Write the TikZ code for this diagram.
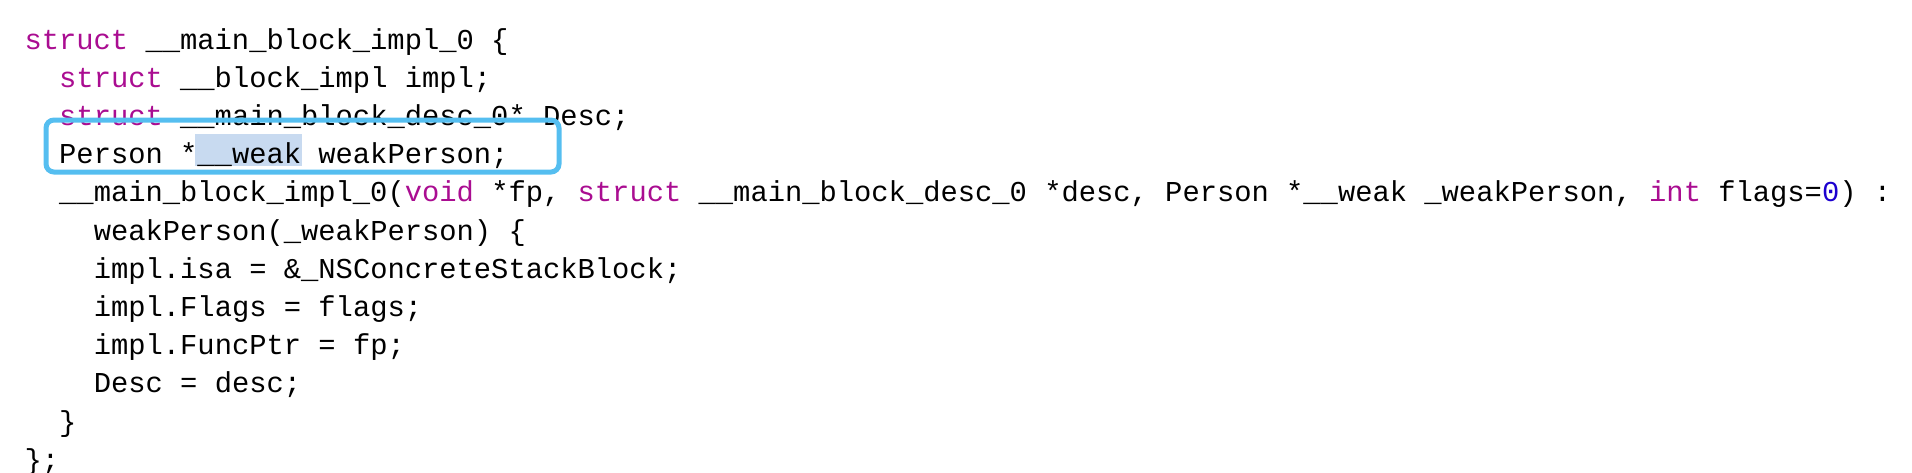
\documentclass[tikz,border=0pt]{standalone}
\usepackage{fontspec}
\newfontfamily\code{Liberation Mono}
\definecolor{kw}{RGB}{170,13,145}
\definecolor{num}{RGB}{28,0,207}
\definecolor{boxc}{RGB}{85,190,240}
\definecolor{hl}{RGB}{200,218,240}
\begin{document}
\begin{tikzpicture}[x=1pt,y=-1pt,
  ln/.style={anchor=base west,inner sep=0pt,font=\code\fontsize{28.8}{30}\selectfont}]
\useasboundingbox (0,0) rectangle (1912,472);
\fill[hl] (195,134) rectangle (302,166);
\def\cw{17.3}
\def\L#1#2#3{\node[ln] (#1) at ({24.4+#2*\cw},{49+(#1-1)*38.2}) {#3};}
\L{1}{0}{\textcolor{kw}{struct} \_\_main\_block\_impl\_0 \{}
\L{2}{2}{\textcolor{kw}{struct} \_\_block\_impl impl;}
\L{3}{2}{\textcolor{kw}{struct} \_\_main\_block\_desc\_0* Desc;}
\L{4}{2}{Person *\_\_weak weakPerson;}
\L{5}{2}{\_\_main\_block\_impl\_0(\textcolor{kw}{void} *fp, \textcolor{kw}{struct} \_\_main\_block\_desc\_0 *desc, Person *\_\_weak \_weakPerson, \textcolor{kw}{int} flags=\textcolor{num}{0}) :}
\L{6}{4}{weakPerson(\_weakPerson) \{}
\L{7}{4}{impl.isa = \&\_NSConcreteStackBlock;}
\L{8}{4}{impl.Flags = flags;}
\L{9}{4}{impl.FuncPtr = fp;}
\L{10}{4}{Desc = desc;}
\L{11}{2}{\}}
\L{12}{0}{\};}
\draw[boxc,line width=5pt,rounded corners=8pt] (46,120) rectangle (559,172);
\end{tikzpicture}
\end{document}
